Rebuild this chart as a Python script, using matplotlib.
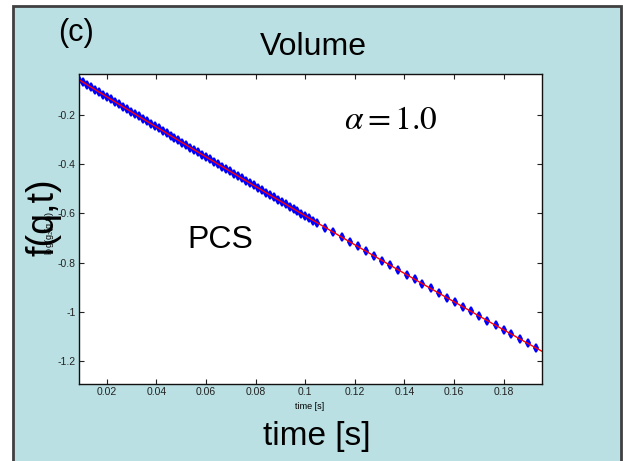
import numpy as np
import matplotlib
matplotlib.use('Agg')
import matplotlib.pyplot as plt
from matplotlib.patches import Rectangle

plt.rcParams['font.family'] = ['Liberation Sans', 'DejaVu Sans']
plt.rcParams['mathtext.fontset'] = 'stix'

# lag times [s] and log correlation values
t_dense = [0.0089, 0.0105, 0.0121, 0.0137, 0.0153, 0.0169, 0.0185, 0.0201, 0.0217, 0.0233,
           0.0249, 0.0265, 0.0281, 0.0297, 0.0313, 0.0329, 0.0345, 0.0361, 0.0377, 0.0393,
           0.0409, 0.0425, 0.0441, 0.0457, 0.0473, 0.0489, 0.0505, 0.0521, 0.0537, 0.0553,
           0.0569, 0.0585, 0.0601, 0.0617, 0.0633, 0.0649, 0.0665, 0.0681, 0.0697, 0.0713,
           0.0729, 0.0745, 0.0761, 0.0777, 0.0793, 0.0809, 0.0825, 0.0841, 0.0857, 0.0873,
           0.0889, 0.0905, 0.0921, 0.0937, 0.0953, 0.0969, 0.0985, 0.1001, 0.1017, 0.1033,
           0.1049]
f_dense = [-0.0580, -0.0679, -0.0778, -0.0877, -0.0976, -0.1075, -0.1174, -0.1272, -0.1371, -0.1470,
           -0.1568, -0.1666, -0.1765, -0.1863, -0.1961, -0.2059, -0.2157, -0.2255, -0.2353, -0.2450,
           -0.2548, -0.2645, -0.2743, -0.2840, -0.2938, -0.3035, -0.3132, -0.3229, -0.3326, -0.3423,
           -0.3520, -0.3617, -0.3713, -0.3810, -0.3906, -0.4003, -0.4099, -0.4195, -0.4292, -0.4388,
           -0.4484, -0.4580, -0.4676, -0.4771, -0.4867, -0.4963, -0.5058, -0.5154, -0.5249, -0.5344,
           -0.5440, -0.5535, -0.5630, -0.5725, -0.5820, -0.5914, -0.6009, -0.6104, -0.6198, -0.6293,
           -0.6387]
t_sparse = [0.1081, 0.1114, 0.1147, 0.1180, 0.1212, 0.1245, 0.1278, 0.1311, 0.1343, 0.1376,
            0.1409, 0.1441, 0.1473, 0.1506, 0.1539, 0.1571, 0.1604, 0.1636, 0.1669, 0.1702,
            0.1734, 0.1768, 0.1800, 0.1832, 0.1865, 0.1898, 0.1930]
f_sparse = [-0.6576, -0.6770, -0.6964, -0.7157, -0.7345, -0.7537, -0.7730, -0.7922, -0.8108, -0.8299,
            -0.8490, -0.8675, -0.8860, -0.9050, -0.9240, -0.9424, -0.9613, -0.9796, -0.9984, -1.0172,
            -1.0354, -1.0547, -1.0729, -1.0910, -1.1096, -1.1282, -1.1462]

xticks = [0.02, 0.04, 0.06, 0.08, 0.1, 0.12, 0.14, 0.16, 0.18]
xlabels = ['0.02', '0.04', '0.06', '0.08', '0.1', '0.12', '0.14', '0.16', '0.18']
yticks = [-1.2, -1.0, -0.8, -0.6, -0.4, -0.2]
ylabels = ['-1.2', '-1', '-0.8', '-0.6', '-0.4', '-0.2']

t = np.array(t_dense + t_sparse)
f = np.array(f_dense + f_sparse)

fig = plt.figure(figsize=(6.23, 4.61), dpi=100, facecolor='white')
bg = Rectangle((13 / 623, -0.02), 608 / 623, 1 - 6 / 461 + 0.02, transform=fig.transFigure,
               facecolor='#bbe0e3', edgecolor='#404040', linewidth=2, zorder=-10)
fig.patches.append(bg)

ax = fig.add_axes([79 / 623, 1 - 384 / 461, 463 / 623, 310 / 461])
ax.set_facecolor('white')

ax.plot(t, f, linestyle='none', marker='d', markersize=4, color='#0000ff',
        markeredgecolor='#0000ff', markeredgewidth=1.4)
coef = np.polyfit(t, f, 2)
tfit = np.linspace(0.0089, 0.1955, 200)
ax.plot(tfit, np.polyval(coef, tfit), color='red', linewidth=1)

ax.set_xlim(0.0088, 0.1955)
ax.set_ylim(-1.293, -0.034)
ax.set_xticks(xticks)
ax.set_xticklabels(xlabels)
ax.set_yticks(yticks)
ax.set_yticklabels(ylabels)
ax.tick_params(direction='in', length=3.5, width=0.8, labelsize=7.5, pad=2.5,
               top=True, right=True, colors='#222222')
for s in ax.spines.values():
    s.set_linewidth(1.0)
    s.set_color('#111111')

fig.text(310 / 623, 1 - 406 / 461, 'time [s]', fontsize=6.5, ha='center', va='center')
fig.text(317 / 623, 1 - 436 / 461, 'time [s]', fontsize=24, ha='center', va='center')
fig.text(50 / 623, 1 - 233 / 461, 'log(g$_2$(q,t))', fontsize=6.5, rotation=90,
         ha='center', va='center')
fig.text(44 / 623, 1 - 217 / 461, 'f(q,t)', fontsize=27, rotation=90,
         ha='center', va='center')
fig.text(76 / 623, 1 - 33 / 461, '(c)', fontsize=22, ha='center', va='center')
fig.text(313 / 623, 1 - 47 / 461, 'Volume', fontsize=23, ha='center', va='center')
fig.text(391 / 623, 1 - 120 / 461, r'$\alpha = 1.0$', fontsize=24, ha='center', va='center')
fig.text(220 / 623, 1 - 240 / 461, 'PCS', fontsize=23, ha='center', va='center')

fig.savefig('out.png', dpi=100, facecolor='white')
